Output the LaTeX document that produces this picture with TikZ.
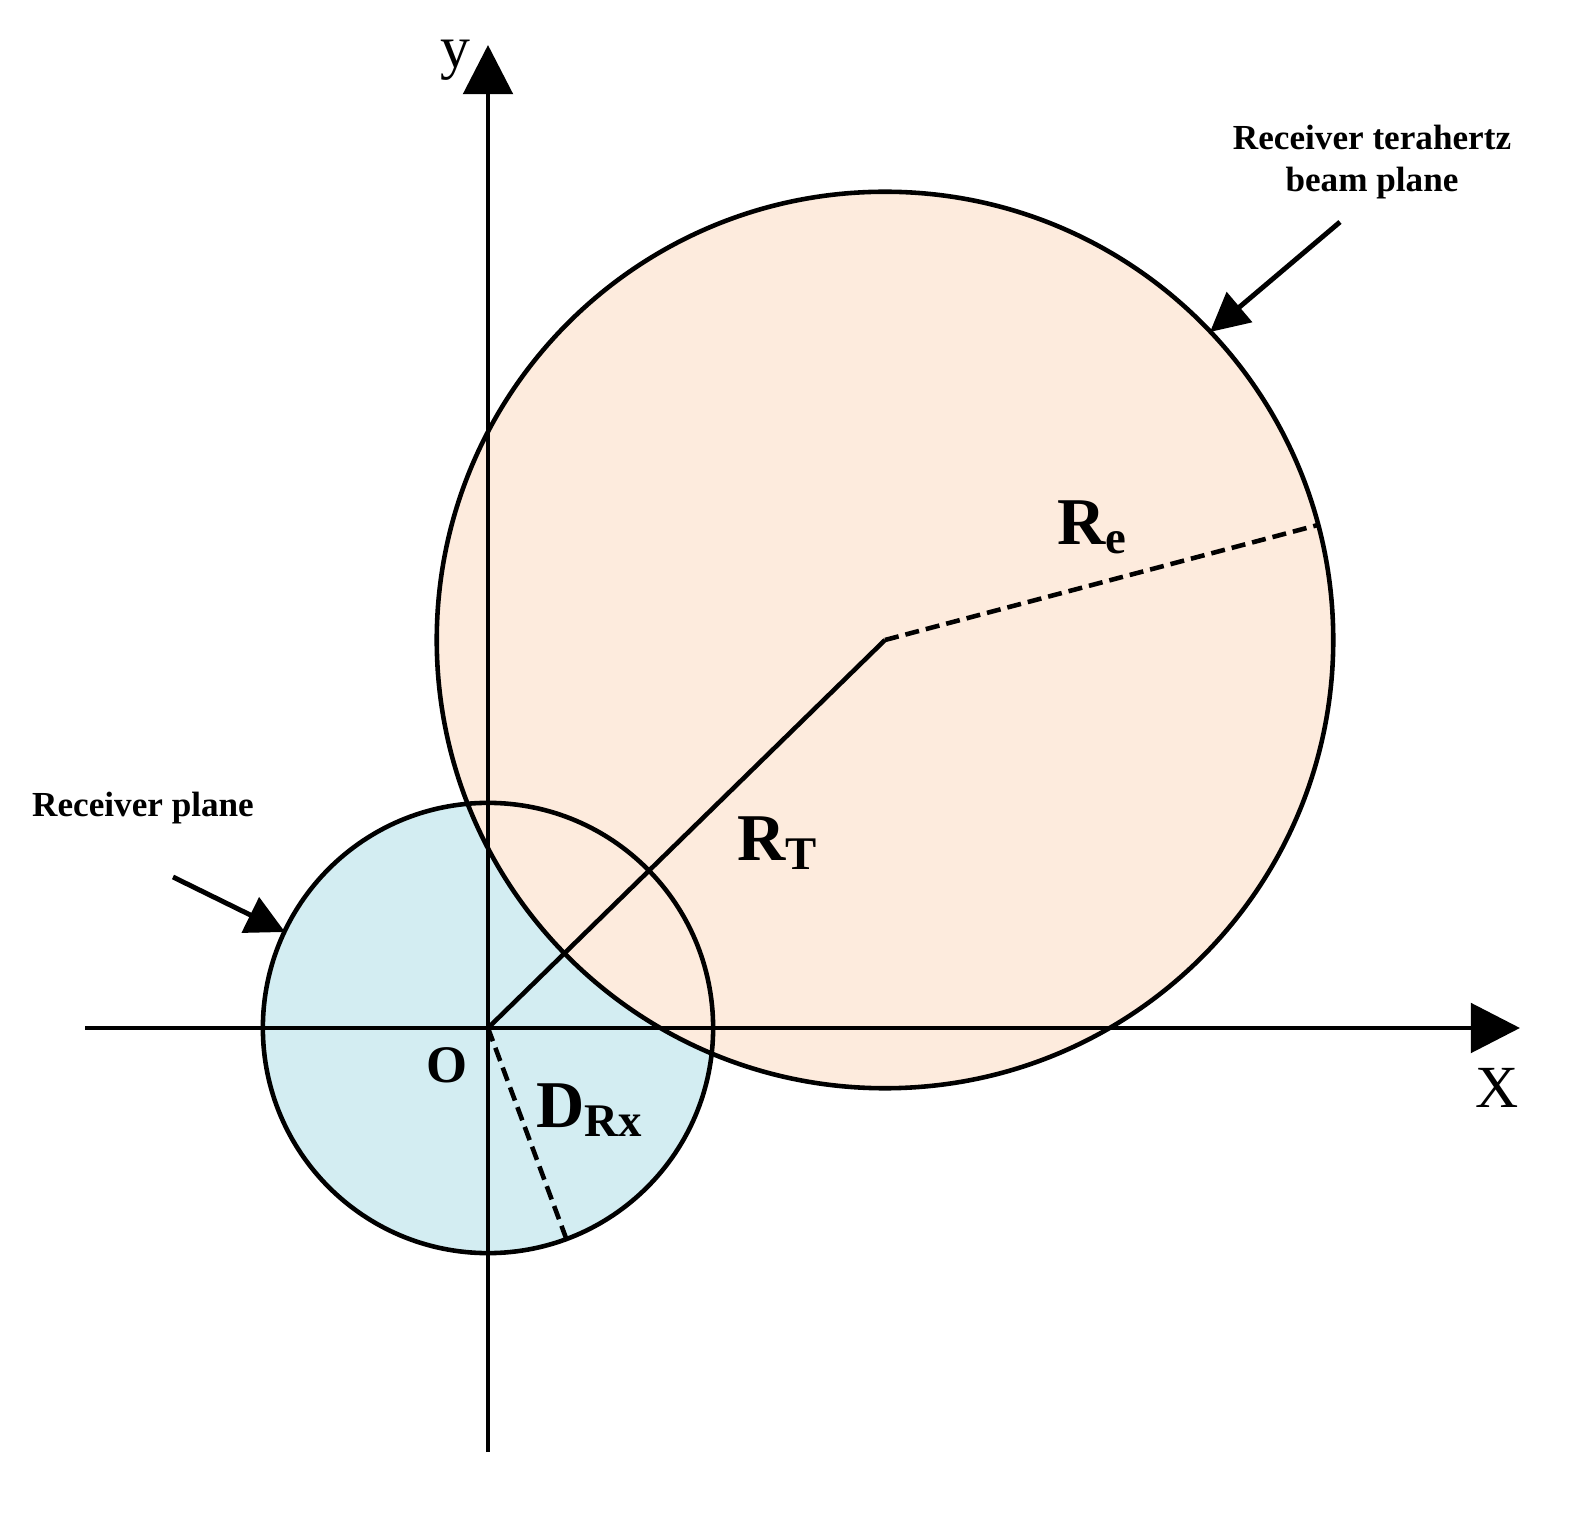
\documentclass[tikz,border=0pt]{standalone}
\usepackage{fontspec}
\setmainfont{Liberation Serif}
\usetikzlibrary{arrows.meta}
\definecolor{peach}{HTML}{FDEBDD}
\definecolor{lblue}{HTML}{D3EDF2}
\begin{document}
\begin{tikzpicture}[x=0.01cm,y=-0.01cm,
  axis/.style={line width=1.4pt,-{Triangle[length=14pt,width=14pt]}},
  pointer/.style={line width=1.4pt,-{Triangle[length=11pt,width=11pt]}},
  lbl/.style={font=\bfseries\fontsize{10}{12}\selectfont,align=center},
  big/.style={font=\bfseries\fontsize{19}{22}\selectfont}]
\useasboundingbox (0,0) rectangle (1593,1519);
\coordinate (O) at (488,1028);
\coordinate (C) at (885,640);
\fill[lblue] (O) circle[radius=2.25cm];
\fill[peach] (C) circle[radius=4.48cm];
\draw[line width=1.3pt] (O) circle[radius=2.25cm];
\draw[line width=1.3pt] (C) circle[radius=4.48cm];
\coordinate (ybot) at (488,1452);
\coordinate (ytop) at (488,45);
\coordinate (xl) at (85,1028);
\coordinate (xr) at (1520,1028);
\draw[axis] (ybot) -- (ytop);
\draw[axis] (xl) -- (xr);
\coordinate (Re) at (1318,525);
\coordinate (D) at (566,1238);
\draw[line width=1.3pt] (O) -- (C);
\draw[line width=1.3pt,dashed,dash pattern=on 4pt off 2pt] (C) -- (Re);
\draw[line width=1.3pt,dashed,dash pattern=on 4pt off 2pt] (O) -- (D);
\node[font=\fontsize{17}{20}\selectfont] (ly) at (455,60) {y};
\node[font=\fontsize{17}{20}\selectfont] (lx) at (1497,1088) {X};
\node[font=\bfseries\fontsize{15}{18}\selectfont] (lo) at (447,1065) {O};
\node[big] (lre) at (1093,527) {R\textsubscript{e}};
\node[big] (lrt) at (778,843) {R\textsubscript{T}};
\node[big] (ldrx) at (590,1110) {D\textsubscript{Rx}};
\node[lbl] (rp) at (143,808) {Receiver plane};
\node[lbl] (rt) at (1372,162) {Receiver terahertz\\beam plane};
\coordinate (a1) at (1340,222);
\coordinate (a2) at (1210,332);
\coordinate (b1) at (173,877);
\coordinate (b2) at (285,932);
\draw[pointer] (a1) -- (a2);
\draw[pointer] (b1) -- (b2);
\end{tikzpicture}
\end{document}
